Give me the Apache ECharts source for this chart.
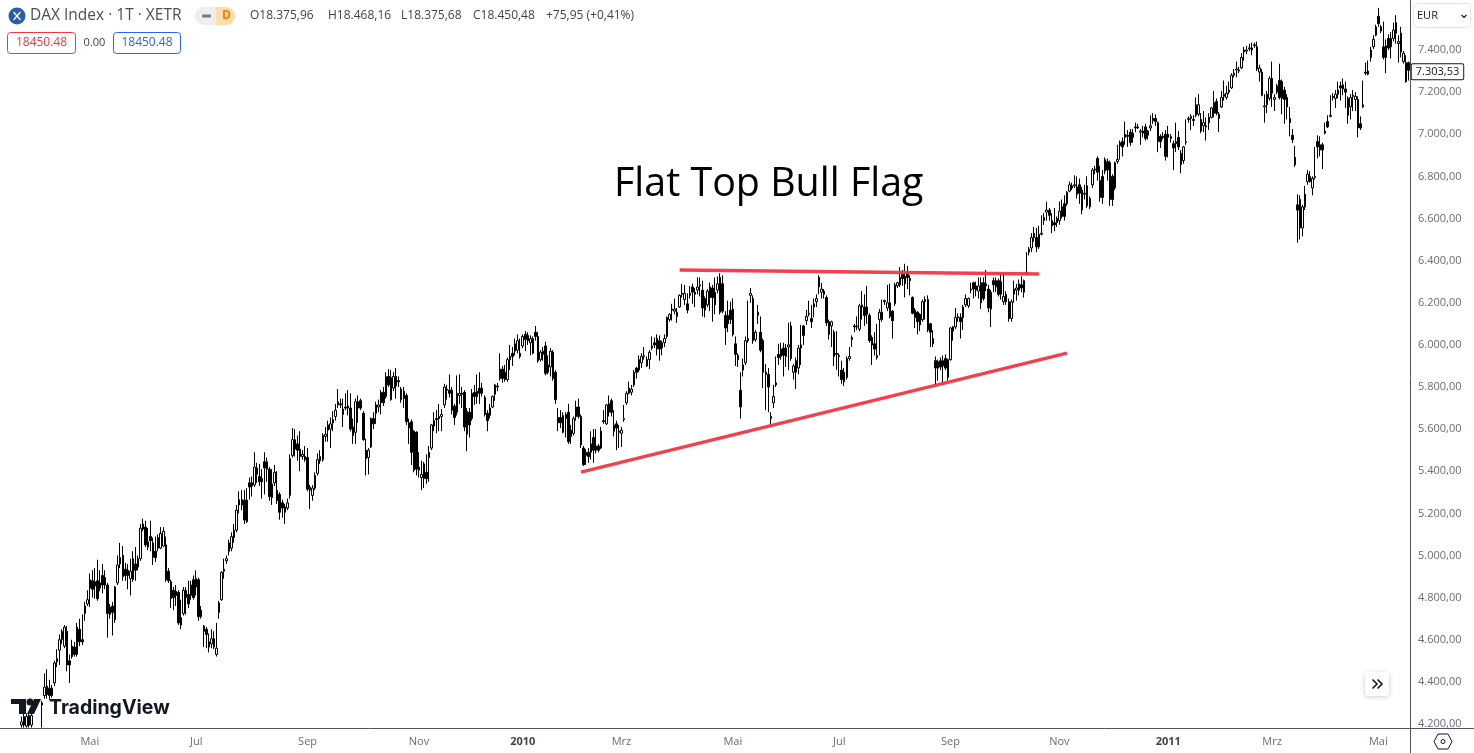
<!DOCTYPE html>
<html><head><meta charset="utf-8">
<style>html,body{margin:0;padding:0;background:#fff}#c{width:1474px;height:753px}</style>
<script src="https://cdn.jsdelivr.net/npm/echarts@6/dist/echarts.min.js"></script>
</head><body><div id="c"></div>
<script>
// rows: [open, close, low, high]. Rows below the axis floor are clipped.
const offScale=[[4120,4100,4080,4140],[4100,4130,4090,4150],[4130,4110,4090,4150],[4110,4140,4100,4160],[4140,4120,4100,4160],[4120,4150,4110,4165],[4150,4130,4110,4165],[4130,4150,4120,4170]];
const spring09=[[4195,4210,4183,4235],[4235,4195,4183,4250],[4190,4235,4183,4250],[4240,4195,4183,4255],[4195,4240,4183,4260],[4150,4120,4100,4170],[4120,4140,4100,4165],[4140,4125,4100,4170],[4290,4300,4183,4310],[4335,4375,4320,4440],[4380,4340,4320,4460],[4370,4335,4315,4410],[4370,4335,4325,4385],[4395,4490,4380,4500],[4495,4510,4470,4555],[4550,4600,4480,4625],[4600,4640,4580,4650],[4570,4660,4560,4670],[4640,4480,4450,4665],[4500,4480,4395,4530],[4570,4520,4510,4600],[4565,4530,4520,4590],[4530,4660,4520,4680],[4650,4590,4570,4700],[4600,4590,4575,4720],[4725,4760,4690,4780],[4770,4790,4760,4835]];
const may09=[[4885,4845,4755,4915],[4880,4840,4800,4930],[4855,4875,4795,4940],[4880,4795,4785,4980],[4845,4870,4830,4930],[4905,4860,4820,4960],[4895,4860,4840,4930],[4860,4725,4610,4870],[4755,4720,4700,4770],[4760,4730,4620,4780],[4695,4850,4680,4855],[4870,4955,4860,5000],[4960,4990,4940,5060],[5000,4900,4880,5045],[4935,4905,4880,4965],[4930,4905,4840,4960],[4890,4925,4810,4985],[4885,4985,4875,5020],[4960,4930,4880,5040],[4945,4985,4930,5000],[4985,5130,4975,5150]];
const jun09=[[5125,5150,5115,5175],[5135,5050,5040,5165],[5065,5040,5025,5130],[5090,5070,5020,5165],[5060,4990,4955,5085],[5020,4990,4970,5090],[5035,5085,5020,5100],[5035,5105,5030,5135],[5045,5115,5040,5135],[5050,4885,4875,5090],[4925,4880,4870,4940],[4875,4795,4750,4885],[4835,4800,4740,4850],[4830,4810,4760,4860],[4825,4680,4670,4835],[4705,4670,4650,4790],[4725,4835,4715,4850],[4800,4835,4720,4850],[4815,4770,4750,4880],[4810,4860,4790,4880],[4885,4800,4790,4905]];
const jul09=[[4850,4890,4810,4930],[4885,4710,4690,4895],[4740,4710,4700,4760],[4665,4640,4565,4670],[4650,4625,4560,4660],[4590,4565,4540,4630],[4580,4605,4560,4650],[4605,4565,4555,4640],[4530,4560,4520,4680],[4730,4775,4700,4785],[4790,4920,4785,4925],[4925,4935,4890,4985],[4975,4985,4960,5000],[5020,5060,5000,5075],[5035,5090,5020,5110],[5085,5120,5060,5150],[5120,5215,5110,5240],[5265,5240,5200,5305],[5265,5240,5215,5310],[5263,5168,5150,5310],[5160,5263,5155,5320],[5345,5325,5265,5370]];
const aug09=[[5345,5330,5280,5375],[5335,5420,5325,5490],[5385,5415,5345,5440],[5375,5350,5330,5435],[5365,5350,5270,5410],[5445,5415,5290,5490],[5445,5410,5350,5465],[5410,5280,5260,5420],[5340,5275,5240,5410],[5345,5395,5330,5430],[5260,5310,5245,5400],[5290,5205,5170,5300],[5250,5225,5180,5265],[5205,5230,5150,5245],[5225,5250,5215,5270],[5285,5460,5270,5480],[5475,5550,5465,5605],[5550,5505,5470,5600],[5530,5500,5450,5570],[5505,5470,5400,5590],[5470,5480,5455,5500],[5470,5455,5445,5520]];
const sep09=[[5465,5315,5305,5510],[5325,5310,5220,5335],[5285,5320,5260,5335],[5320,5380,5310,5395],[5390,5455,5380,5485],[5450,5470,5435,5500],[5455,5570,5445,5580],[5565,5575,5540,5610],[5595,5620,5540,5640],[5600,5625,5510,5655],[5645,5630,5590,5685],[5660,5690,5640,5720],[5715,5730,5700,5790],[5720,5715,5700,5745],[5695,5670,5610,5745],[5705,5700,5690,5770],[5710,5700,5665,5785],[5700,5600,5590,5770],[5610,5570,5530,5650],[5585,5730,5530,5745],[5730,5700,5630,5760],[5735,5700,5690,5745]];
const oct09=[[5675,5550,5545,5685],[5500,5460,5380,5555],[5465,5500,5385,5510],[5515,5650,5510,5655],[5650,5625,5600,5680],[5675,5715,5625,5730],[5705,5715,5680,5740],[5725,5775,5670,5785],[5775,5725,5710,5800],[5755,5850,5745,5870],[5850,5810,5800,5885],[5845,5740,5735,5880],[5795,5850,5780,5870],[5850,5805,5745,5890],[5830,5825,5800,5850],[5790,5740,5725,5800],[5780,5745,5700,5800],[5760,5635,5620,5770],[5630,5605,5530,5650],[5635,5490,5430,5645],[5590,5405,5395,5595],[5585,5410,5380,5590]];
const nov09=[[5405,5420,5370,5490],[5370,5385,5310,5450],[5365,5435,5320,5445],[5395,5365,5340,5480],[5465,5490,5350,5520],[5510,5620,5500,5625],[5640,5615,5590,5680],[5650,5645,5580,5690],[5650,5660,5590,5720],[5660,5670,5590,5695],[5715,5800,5700,5815],[5790,5785,5740,5810],[5785,5770,5750,5860],[5785,5690,5670,5800],[5710,5655,5620,5720],[5680,5770,5665,5855],[5760,5770,5720,5860],[5770,5765,5700,5800],[5775,5610,5590,5785],[5575,5685,5495,5700],[5680,5620,5560,5700]];
const dec09=[[5650,5770,5640,5790],[5775,5755,5715,5810],[5780,5755,5720,5860],[5795,5770,5720,5870],[5795,5770,5755,5820],[5750,5670,5660,5760],[5675,5640,5590,5690],[5665,5700,5650,5720],[5705,5755,5700,5760],[5765,5810,5735,5815],[5800,5805,5780,5820],[5885,5840,5830,5960],[5885,5840,5820,5900],[5870,5835,5825,5905],[5835,5930,5825,5940],[5930,5945,5880,6000],[5960,5945,5900,5990],[5970,6005,5950,6030],[5975,6020,5960,6050],[5960,5945,5935,6030]];
const jan10=[[5995,6040,5985,6050],[6050,6025,5970,6065],[6045,6020,6000,6060],[6010,6030,5950,6045],[5960,6030,5955,6040],[6060,6040,6020,6090],[6040,5925,5915,6060],[5930,5965,5920,5975],[5955,5970,5925,5990],[5995,5865,5855,6015],[5905,5870,5860,5950],[5895,5970,5850,5985],[5965,5840,5830,5975],[5870,5740,5720,5880],[5655,5630,5590,5700],[5655,5630,5605,5690],[5585,5665,5580,5680],[5650,5670,5560,5680],[5680,5540,5530,5720],[5595,5565,5530,5620]];
const feb10=[[5580,5650,5570,5660],[5705,5660,5640,5735],[5705,5660,5650,5745],[5660,5525,5510,5670],[5510,5430,5425,5520],[5475,5490,5430,5505],[5490,5470,5440,5510],[5490,5530,5455,5590],[5560,5500,5440,5600],[5520,5500,5485,5600],[5520,5500,5490,5530],[5510,5590,5505,5610],[5640,5635,5625,5690],[5625,5715,5620,5720],[5720,5680,5660,5760],[5735,5680,5660,5745],[5620,5590,5565,5690],[5625,5605,5500,5640],[5590,5585,5510,5620]];
const mar10=[[5580,5595,5515,5610],[5645,5650,5635,5715],[5725,5770,5715,5780],[5770,5795,5765,5825],[5775,5790,5760,5810],[5810,5870,5800,5880],[5890,5870,5840,5895],[5880,5930,5870,5950],[5915,5945,5890,5960],[5945,5950,5930,5990],[5930,5900,5895,5945],[5930,5965,5885,5975],[5985,5995,5975,6040],[6010,6000,5985,6035],[6030,5980,5950,6050],[6020,5980,5925,6045],[5985,6010,5950,6020],[6010,6030,5990,6050],[6040,6130,6030,6135],[6120,6145,6110,6150],[6170,6165,6115,6195],[6160,6170,6145,6220],[6135,6155,6105,6175],[6180,6235,6175,6240]];
const apr10=[[6240,6245,6225,6290],[6215,6245,6190,6285],[6195,6165,6150,6245],[6235,6245,6220,6280],[6275,6250,6195,6290],[6250,6240,6180,6270],[6260,6275,6240,6320],[6280,6285,6230,6320],[6260,6175,6135,6305],[6220,6165,6130,6230],[6190,6255,6180,6265],[6275,6225,6160,6295],[6270,6225,6110,6285],[6190,6250,6145,6320],[6260,6290,6245,6325],[6320,6155,6145,6340],[6290,6160,6150,6330],[6140,6080,6000,6160],[6100,6140,6060,6210],[6165,6120,6100,6205]];
const may10=[[6170,6050,6040,6220],[6005,5955,5900,6040],[5950,5930,5895,5960],[5785,5705,5650,5870],[5880,5905,5850,5935],[5915,6020,5905,6040],[6020,6030,6010,6210],[6235,6245,6200,6270],[6220,6020,6005,6235],[6025,6060,6015,6070],[6140,6155,6100,6190],[6060,5975,5965,6135],[6020,5870,5795,6030],[5870,5860,5690,5910],[5860,5800,5680,5890],[5650,5660,5610,5680],[5725,5755,5700,5810],[5810,5820,5800,5945],[5955,5940,5905,6005],[5945,5980,5930,6010],[5985,5950,5850,6010]];
const jun10=[[5945,5985,5895,6005],[5990,6000,5880,6105],[6090,5935,5925,6110],[5870,5900,5835,5910],[5925,5870,5790,5940],[5890,5985,5860,6000],[5985,6000,5905,6095],[6090,6045,6000,6095],[6115,6135,6095,6165],[6145,6150,6135,6210],[6125,6110,6080,6190],[6195,6180,6130,6220],[6205,6220,6180,6240],[6320,6275,6240,6330],[6250,6265,6220,6295],[6240,6255,6220,6265],[6225,6105,6090,6235],[6110,6050,6025,6120],[6090,6110,5990,6115],[6060,5945,5900,6070],[5960,5955,5880,6065]];
const jul10=[[5950,5945,5850,5960],[5880,5835,5815,5925],[5870,5825,5805,5890],[5845,5935,5835,5945],[5935,5945,5925,5990],[6025,6035,5990,6045],[6090,6085,6060,6100],[6090,6085,6070,6135],[6075,6185,6065,6195],[6180,6190,6120,6255],[6180,6140,6090,6240],[6180,6145,6100,6280],[6140,6020,6010,6150],[6035,6000,5905,6045],[6005,5980,5950,6060],[5940,5950,5930,6100],[6120,6155,5950,6170],[6155,6120,6110,6215],[6210,6205,6190,6215],[6175,6200,6160,6285],[6200,6135,6125,6290],[6160,6115,6030,6165]];
const aug10=[[6195,6285,6185,6295],[6280,6295,6270,6300],[6285,6320,6275,6370],[6335,6315,6280,6355],[6325,6290,6225,6385],[6345,6320,6265,6375],[6315,6305,6235,6330],[6225,6150,6145,6230],[6165,6130,6080,6175],[6155,6110,6050,6160],[6145,6095,6065,6150],[6120,6205,6110,6215],[6205,6215,6120,6230],[6215,6070,6060,6235],[6100,6060,5990,6105],[6030,6005,5990,6070],[5925,5890,5810,5945],[5890,5920,5830,5930],[5925,5895,5880,5940],[5900,5925,5810,5950],[5935,5890,5880,5955],[5845,5930,5830,5935]];
const sep10=[[5930,6080,5925,6085],[6065,6085,6020,6090],[6085,6130,6075,6175],[6130,6135,6110,6150],[6130,6110,6030,6150],[6130,6180,6070,6190],[6190,6220,6180,6240],[6185,6220,6175,6225],[6260,6265,6245,6295],[6295,6265,6220,6300],[6280,6260,6230,6300],[6255,6280,6220,6320],[6295,6200,6170,6320],[6295,6220,6210,6320],[6290,6280,6255,6355],[6265,6175,6155,6285],[6250,6170,6085,6260],[6305,6285,6250,6320],[6305,6275,6250,6320],[6305,6240,6230,6315],[6300,6240,6215,6335],[6205,6230,6190,6345]];
const oct10=[[6240,6205,6190,6255],[6205,6125,6110,6220],[6125,6205,6110,6215],[6240,6265,6200,6305],[6260,6270,6210,6290],[6260,6290,6235,6310],[6285,6270,6250,6325],[6250,6305,6225,6310],[6340,6345,6335,6440],[6440,6455,6425,6465],[6460,6510,6440,6530],[6510,6530,6490,6560],[6510,6465,6440,6555],[6465,6525,6455,6565],[6525,6530,6520,6615],[6590,6605,6570,6625],[6630,6640,6590,6680],[6640,6615,6590,6650],[6590,6565,6530,6625],[6580,6570,6540,6650],[6580,6600,6560,6610]];
const nov10=[[6590,6635,6570,6680],[6655,6610,6600,6690],[6670,6610,6590,6710],[6670,6725,6660,6730],[6730,6760,6725,6775],[6745,6755,6735,6770],[6755,6760,6745,6805],[6750,6715,6695,6800],[6760,6720,6670,6790],[6640,6735,6620,6750],[6715,6720,6690,6760],[6755,6660,6650,6800],[6655,6695,6645,6705],[6760,6830,6745,6840],[6830,6835,6810,6850],[6885,6820,6780,6895],[6780,6700,6680,6850],[6800,6700,6670,6830],[6825,6880,6810,6890],[6870,6830,6780,6885],[6865,6690,6660,6875]];
const dec10=[[6800,6690,6660,6810],[6745,6865,6735,6870],[6870,6880,6860,6950],[6945,6960,6880,6970],[6965,6940,6895,6985],[6985,7000,6950,7060],[6995,6990,6940,7020],[7010,6960,6945,7025],[6985,7005,6960,7025],[7035,7030,7010,7055],[7030,7035,7025,7050],[7010,7015,6950,7025],[7015,7005,6985,7040],[7035,6980,6970,7050],[6995,7015,6975,7020],[7030,7040,7015,7090],[7075,7065,7050,7100],[7075,7060,7040,7095],[7055,6965,6915,7060],[6990,6965,6935,7000],[6990,6985,6975,7010],[7000,6895,6875,7020]];
const jan11=[[6985,7000,6890,7040],[6980,6990,6960,7000],[6955,6935,6830,6970],[6955,6965,6915,7055],[6985,6940,6925,7015],[6910,6855,6815,6925],[6875,6940,6860,6945],[6960,6965,6950,7070],[7070,7075,7055,7085],[7075,7085,7020,7095],[7070,7065,7040,7090],[7090,7140,7080,7175],[7095,7140,7085,7190],[7070,7015,7005,7100],[7040,7055,7010,7110],[7035,7040,6970,7080],[7080,7055,7020,7100],[7080,7125,7075,7130],[7150,7100,7080,7205],[7155,7100,7090,7170],[7095,7075,7010,7105]];
const feb11=[[7130,7175,7125,7205],[7180,7190,7160,7255],[7175,7195,7165,7230],[7200,7210,7190,7250],[7220,7280,7215,7290],[7280,7290,7270,7310],[7305,7310,7270,7345],[7305,7300,7290,7320],[7315,7365,7310,7385],[7400,7390,7350,7415],[7395,7400,7380,7420],[7405,7410,7395,7430],[7410,7400,7375,7435],[7420,7425,7410,7435],[7415,7310,7300,7440],[7295,7315,7250,7330],[7295,7185,7180,7310],[7130,7135,7055,7190],[7140,7190,7100,7205],[7170,7265,7160,7275]];
const mar11=[[7265,7195,7130,7345],[7165,7175,7110,7190],[7200,7230,7190,7240],[7255,7175,7165,7335],[7250,7170,7095,7260],[7210,7165,7050,7225],[7175,7130,7070,7190],[7075,7055,6990,7130],[6995,6975,6958,7025],[6890,6855,6845,6945],[6665,6640,6485,6715],[6690,6555,6500,6710],[6555,6655,6515,6665],[6715,6655,6640,6755],[6775,6810,6760,6830],[6775,6800,6770,6825],[6745,6790,6710,6800],[6795,6800,6785,6940],[6965,6940,6885,6995],[6950,6925,6895,6990],[6950,6925,6835,6960],[7005,7015,7000,7055],[7060,7035,7030,7090]];
const apr11=[[7085,7090,7080,7185],[7180,7175,7160,7195],[7170,7190,7125,7210],[7190,7210,7170,7250],[7230,7220,7160,7250],[7215,7235,7185,7265],[7215,7200,7125,7250],[7170,7090,7050,7180],[7130,7175,7070,7190],[7185,7180,7110,7210],[7165,7180,7110,7200],[7165,7030,6985,7180],[7050,7030,7020,7085],[7130,7140,7125,7255],[7295,7290,7280,7340],[7285,7300,7280,7350],[7365,7400,7345,7415],[7415,7450,7405,7470],[7470,7510,7465,7520]];
const may11=[[7560,7525,7510,7600],[7510,7490,7480,7520],[7415,7365,7355,7535],[7420,7365,7290,7450],[7455,7410,7400,7475],[7455,7415,7360,7485],[7455,7495,7440,7530],[7530,7480,7430,7565],[7430,7440,7340,7470],[7480,7390,7365,7510],[7345,7385,7335,7395],[7340,7250,7245,7375],[7340,7303.53,7255,7345]];

const priceTicks=[4200,4400,4600,4800,5000,5200,5400,5600,5800,6000,6200,6400,6600,6800,7000,7200,7400];
const timeLabels=['Mai','Jul','Sep','Nov','2010','Mrz','Mai','Jul','Sep','Nov','2011','Mrz','Mai'];
const timeLabelRows=[35,77,121,165,206,245,289,331,375,418,461,502,544];
const flatTop=[[268,6355],[410,6336]];
const risingSupport=[[229,5396],[421,5961]];
const lastPrice=7303.53;

const candles=[].concat(offScale,spring09,may09,jun09,jul09,aug09,sep09,oct09,nov09,dec09,jan10,feb10,mar10,apr10,may10,jun10,jul10,aug10,sep10,oct10,nov10,dec10,jan11,feb11,mar11,apr11,may11);
const rows=candles.map((_,i)=>String(i));
const labelAt={};timeLabelRows.forEach((r,i)=>labelAt[r]=timeLabels[i]);
const deNum=v=>{const s=v.toFixed(2).replace('.',',');return s.replace(/^(\d)(\d{3})/,'$1.$2');};

const F='"Open Sans",sans-serif';
const ink='#131722', grey='#6a6d78', axisC='#50535e', red='#f23645', blue='#2962ff';
const trend=(pts)=>[{coord:pts[0]},{coord:pts[1]}];
const txt=(x,y,t,fs,fill,extra)=>({type:'text',x,y,silent:true,style:Object.assign({text:t,fontSize:fs,fontFamily:F,fill,verticalAlign:'middle',align:'left'},extra||{})});

const graphic=[
 {type:'line',shape:{x1:0,y1:728.5,x2:1474,y2:728.5},style:{stroke:axisC,lineWidth:1},z:20},
 {type:'line',shape:{x1:1410.5,y1:0,x2:1410.5,y2:753},style:{stroke:axisC,lineWidth:1},z:20},
 {type:'circle',shape:{cx:17,cy:16,r:8.5},style:{fill:'#2a5ca8'},z:30},
 {type:'polyline',shape:{points:[[13.5,12],[20.5,20]]},style:{stroke:'#fff',lineWidth:1.3,fill:null},z:31},
 {type:'polyline',shape:{points:[[20.5,12],[13.5,20]]},style:{stroke:'#fff',lineWidth:1.3,fill:null},z:31},
 Object.assign(txt(30,16,'DAX Index · 1T · XETR',15.5,'#4a4e59'),{z:30}),
 {type:'rect',shape:{x:195,y:7,width:40,height:18,r:9},style:{fill:'#eceef2'},z:30},
 {type:'rect',shape:{x:216,y:7,width:19,height:18,r:[0,9,9,0]},style:{fill:'#ffdcaa'},z:31},
 {type:'rect',shape:{x:202,y:14.5,width:9,height:3,r:1},style:{fill:'#787b86'},z:31},
 Object.assign(txt(222,16,'D',12,'#f57c00',{fontWeight:'bold'}),{z:32}),
 Object.assign(txt(250,16,'O18.375,96',12,'#3f434e'),{z:30}),
 Object.assign(txt(328,16,'H18.468,16',12,'#3f434e'),{z:30}),
 Object.assign(txt(401,16,'L18.375,68',12,'#3f434e'),{z:30}),
 Object.assign(txt(473,16,'C18.450,48',12,'#3f434e'),{z:30}),
 Object.assign(txt(546,16,'+75,95 (+0,41%)',12,'#3f434e'),{z:30}),
 {type:'rect',shape:{x:7.5,y:32.5,width:68,height:21,r:3},style:{fill:'#fff',stroke:red,lineWidth:1},z:30},
 Object.assign(txt(41.5,43,'18450.48',12,red,{align:'center'}),{z:31}),
 Object.assign(txt(94.5,43,'0.00',11,'#3f434e',{align:'center'}),{z:31}),
 {type:'rect',shape:{x:113.5,y:32.5,width:67,height:21,r:3},style:{fill:'#fff',stroke:blue,lineWidth:1},z:30},
 Object.assign(txt(147,43,'18450.48',12,blue,{align:'center'}),{z:31}),
 Object.assign(txt(614,185,'Flat Top Bull Flag',39.4,'#000',{fontFamily:'"Open Sans",sans-serif'}),{z:25}),
 {type:'rect',shape:{x:1413.5,y:3.5,width:57,height:24,r:4},style:{fill:'#fff',stroke:'#e0e3eb',lineWidth:1},z:30},
 Object.assign(txt(1417,16,'EUR',11,ink),{z:31}),
 {type:'polyline',shape:{points:[[1461.5,15],[1464,17.5],[1466.5,15]]},style:{stroke:ink,lineWidth:1.2,fill:null},z:31},
 {type:'polygon',shape:{points:[[11,699],[26,699],[26,714],[19,714],[19,704],[11,704]]},style:{fill:ink},z:30},
 {type:'circle',shape:{cx:30,cy:702,r:3.5},style:{fill:ink},z:30},
 {type:'polygon',shape:{points:[[34,699],[41,699],[34,714],[27,714]]},style:{fill:ink},z:30},
 Object.assign(txt(49,708,'TradingView',19.5,ink,{fontWeight:'bold',fontFamily:'"Inter",sans-serif'}),{z:30}),
 {type:'rect',shape:{x:1365,y:672,width:24,height:24,r:4},style:{fill:'#fff',shadowBlur:5,shadowColor:'rgba(0,0,0,.2)',shadowOffsetY:1},z:30},
 {type:'polyline',shape:{points:[[1372.5,679.5],[1377,684],[1372.5,688.5]]},style:{stroke:ink,lineWidth:1.6,fill:null},z:31},
 {type:'polyline',shape:{points:[[1377.5,679.5],[1382,684],[1377.5,688.5]]},style:{stroke:ink,lineWidth:1.6,fill:null},z:31},
 {type:'polygon',shape:{points:[[1438,734],[1448,734],[1452,741.5],[1448,749],[1438,749],[1434,741.5]]},style:{fill:'#fff',stroke:ink,lineWidth:1},z:30},
 {type:'circle',shape:{cx:1443,cy:741.5,r:2},style:{fill:'#fff',stroke:ink,lineWidth:1},z:31}
];

const chart=echarts.init(document.getElementById('c'),null,{renderer:'canvas'});
chart.setOption({
 animation:false,backgroundColor:'#fff',
 grid:{left:0,right:64,top:0,bottom:25,containLabel:false},
 xAxis:{type:'category',data:rows,boundaryGap:true,
  axisLine:{show:false},axisTick:{show:false},splitLine:{show:false},
  axisLabel:{color:grey,fontSize:11,fontFamily:F,margin:8,
   interval:(i)=>labelAt[i]!==undefined,
   formatter:(v,i)=>{const l=labelAt[i]||'';return /^\d+$/.test(l)?'{b|'+l+'}':l;},
   rich:{b:{fontWeight:'bold',color:'#3f434e',fontSize:11,fontFamily:F}}}},
 yAxis:{type:'value',position:'right',min:4181,max:7637.4,scale:true,
  axisLine:{show:false},axisTick:{show:false},splitLine:{show:false},
  axisLabel:{color:grey,fontSize:11,fontFamily:F,margin:8,padding:[4,0,0,0],customValues:priceTicks,formatter:deNum}},
 series:[{type:'candlestick',data:candles,barWidth:2,clip:true,
  itemStyle:{color:'#fff',color0:'#000',borderColor:'#000',borderColor0:'#000',borderWidth:1},
  markLine:{silent:true,symbol:'none',animation:false,label:{show:false},
   lineStyle:{color:red,width:3.5,type:'solid',opacity:.95},
   data:[trend(flatTop),trend(risingSupport)]},
  markPoint:{silent:true,animation:false,symbol:'rect',symbolSize:0,
   data:[{coord:[candles.length-1,lastPrice],value:lastPrice}],
   label:{show:true,position:'right',distance:3,offset:[0,1.5],formatter:()=>deNum(lastPrice),color:ink,fontSize:11,fontFamily:F,
    backgroundColor:'#fff',borderColor:ink,borderWidth:1,padding:[2,4,2,4],borderRadius:1}}}],
 graphic:{elements:graphic}
});
</script></body></html>
